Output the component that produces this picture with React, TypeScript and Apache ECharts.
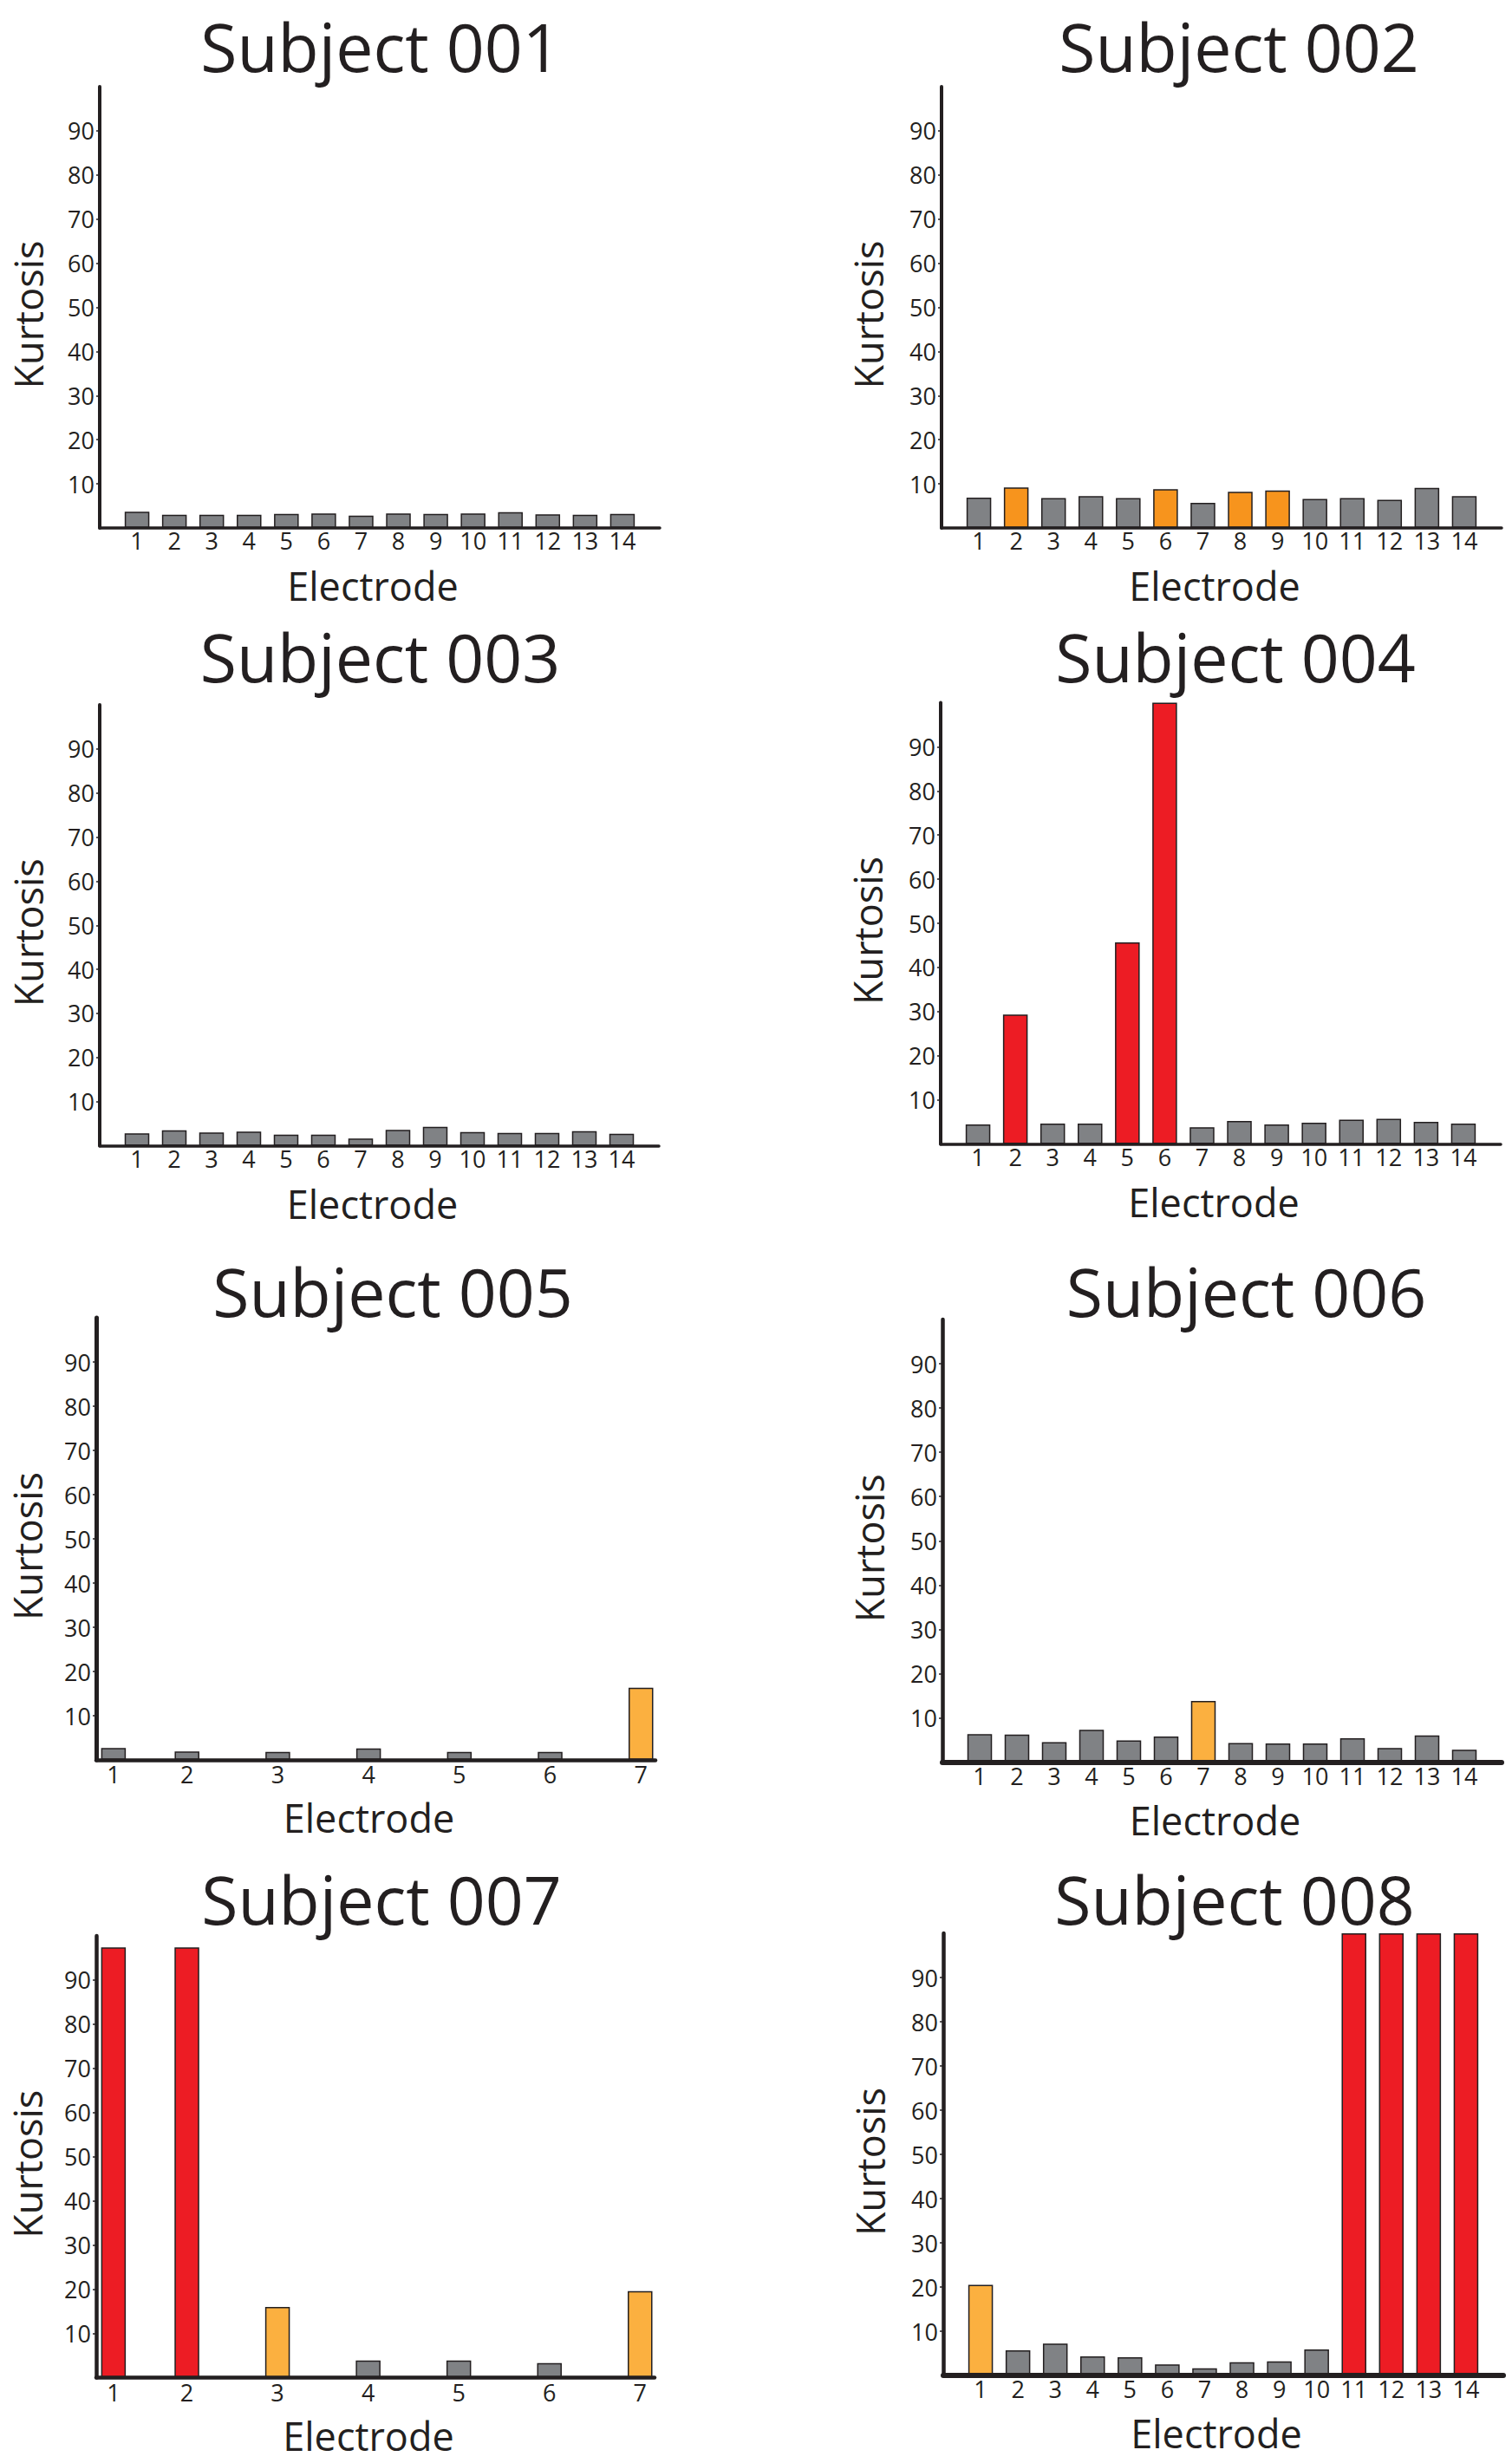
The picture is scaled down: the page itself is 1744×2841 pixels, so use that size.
import React, { useEffect, useRef } from "react";
import * as echarts from "echarts";

// ---------- data ----------
const subjectTitles = [
  "Subject 001", "Subject 002", "Subject 003", "Subject 004",
  "Subject 005", "Subject 006", "Subject 007", "Subject 008",
];

const electrodeLabels14 = ["1", "2", "3", "4", "5", "6", "7", "8", "9", "10", "11", "12", "13", "14"];
const electrodePos14 = [1, 2, 3, 4, 5, 6, 7, 8, 9, 10, 11, 12, 13, 14];
const electrodeLabels7 = ["1", "2", "3", "4", "5", "6", "7"];
const electrodePos7 = [1.19, 2, 3, 4, 5, 6, 7];

const yTickValues = [10, 20, 30, 40, 50, 60, 70, 80, 90];

const kurtosis001 = [3.7, 3.0, 3.0, 3.0, 3.2, 3.3, 2.8, 3.3, 3.2, 3.3, 3.6, 3.1, 3.0, 3.2];
const class001 = ["g", "g", "g", "g", "g", "g", "g", "g", "g", "g", "g", "g", "g", "g"];

const kurtosis002 = [6.9, 9.2, 6.8, 7.2, 6.8, 8.8, 5.7, 8.2, 8.5, 6.6, 6.8, 6.4, 9.1, 7.2];
const class002 = ["g", "o", "g", "g", "g", "o", "g", "o", "o", "g", "g", "g", "g", "g"];

const kurtosis003 = [2.8, 3.5, 3.0, 3.2, 2.5, 2.5, 1.6, 3.6, 4.3, 3.1, 2.9, 2.9, 3.3, 2.7];
const class003 = ["g", "g", "g", "g", "g", "g", "g", "g", "g", "g", "g", "g", "g", "g"];

const kurtosis004 = [4.4, 29.3, 4.6, 4.6, 45.7, 100, 3.8, 5.2, 4.4, 4.8, 5.5, 5.7, 5.0, 4.6];
const class004 = ["g", "r", "g", "g", "r", "r", "g", "g", "g", "g", "g", "g", "g", "g"];

const kurtosis005 = [2.7, 1.9, 1.8, 2.6, 1.8, 1.8, 16.3];
const class005 = ["g", "g", "g", "g", "g", "g", "l"];

const kurtosis006 = [6.3, 6.2, 4.5, 7.3, 4.9, 5.8, 13.8, 4.3, 4.2, 4.2, 5.4, 3.2, 6.0, 2.8];
const class006 = ["g", "g", "g", "g", "g", "g", "l", "g", "g", "g", "g", "g", "g", "g"];

const kurtosis007 = [97.4, 97.4, 16.0, 3.9, 3.9, 3.3, 19.6];
const class007 = ["r", "r", "l", "g", "g", "g", "l"];

const kurtosis008 = [20.5, 5.7, 7.2, 4.3, 4.1, 2.5, 1.6, 3.0, 3.2, 5.9, 100, 100, 100, 100];
const class008 = ["l", "g", "g", "g", "g", "g", "g", "g", "g", "g", "r", "r", "r", "r"];

const panels = [
  { title: subjectTitles[0], values: kurtosis001, cls: class001, pos: electrodePos14, labels: electrodeLabels14, xMin: 0, xMax: 15 },
  { title: subjectTitles[1], values: kurtosis002, cls: class002, pos: electrodePos14, labels: electrodeLabels14, xMin: 0, xMax: 15 },
  { title: subjectTitles[2], values: kurtosis003, cls: class003, pos: electrodePos14, labels: electrodeLabels14, xMin: 0, xMax: 15 },
  { title: subjectTitles[3], values: kurtosis004, cls: class004, pos: electrodePos14, labels: electrodeLabels14, xMin: 0, xMax: 15 },
  { title: subjectTitles[4], values: kurtosis005, cls: class005, pos: electrodePos7, labels: electrodeLabels7, xMin: 1, xMax: 7.16 },
  { title: subjectTitles[5], values: kurtosis006, cls: class006, pos: electrodePos14, labels: electrodeLabels14, xMin: 0, xMax: 15 },
  { title: subjectTitles[6], values: kurtosis007, cls: class007, pos: electrodePos7, labels: electrodeLabels7, xMin: 1, xMax: 7.16 },
  { title: subjectTitles[7], values: kurtosis008, cls: class008, pos: electrodePos14, labels: electrodeLabels14, xMin: 0, xMax: 15 },
];

// ---------- layout / style ----------
const layout = [
  { left: 115, top: 100, right: 761, bottom: 609, tx: 439, ty: 83, xw: 3.5, yw: 4, lm: 1, ng: 60 },
  { left: 1086, top: 100, right: 1732, bottom: 609, tx: 1429, ty: 83, xw: 3.5, yw: 4, lm: 1, ng: 62 },
  { left: 115, top: 813, right: 760, bottom: 1321.5, tx: 438.5, ty: 787, xw: 3.5, yw: 4, lm: 1, ng: 60 },
  { left: 1085, top: 810.5, right: 1731, bottom: 1319.5, tx: 1425, ty: 787, xw: 3.5, yw: 4, lm: 1, ng: 62 },
  { left: 111, top: 1520, right: 756, bottom: 2030, tx: 453, ty: 1519.5, xw: 4.5, yw: 5, lm: 3, ng: 57 },
  { left: 1087, top: 1522, right: 1732, bottom: 2032.5, tx: 1437.5, ty: 1519.5, xw: 6, yw: 4.5, lm: 2, ng: 62 },
  { left: 111, top: 2233, right: 755, bottom: 2742.5, tx: 440, ty: 2220.5, xw: 4.5, yw: 4.5, lm: 3, ng: 57 },
  { left: 1088, top: 2230, right: 1734, bottom: 2740, tx: 1424, ty: 2220.5, xw: 6, yw: 4.5, lm: 2, ng: 62 },
];

const FONT = "'Open Sans', 'Noto Sans', sans-serif";
const INK = "#231f20";
const COLORS: Record<string, string> = { g: "#808285", o: "#f7941d", l: "#fbb040", r: "#ed1c24" };
const TITLE_SIZE = 77;
const TICK_SIZE = 27;
const NAME_SIZE = 45;

function buildOption() {
  const grid: any[] = [];
  const xAxis: any[] = [];
  const yAxis: any[] = [];
  const series: any[] = [];
  const graphic: any[] = [];

  panels.forEach((p, i) => {
    const L = layout[i];
    grid.push({
      left: L.left,
      top: L.top,
      width: L.right - L.left,
      height: L.bottom - L.top,
      containLabel: false,
      outerBoundsMode: "none",
    });
    xAxis.push({
      type: "value",
      gridIndex: i,
      min: p.xMin,
      max: p.xMax,
      z: 5,
      axisLine: { show: true, onZero: false, lineStyle: { color: INK, width: L.xw } },
      axisTick: { show: false },
      splitLine: { show: false },
      axisLabel: {
        customValues: p.pos,
        formatter: (v: number) => {
          const k = p.pos.findIndex((q) => Math.abs(q - v) < 1e-6);
          return k >= 0 ? p.labels[k] : "";
        },
        margin: L.lm,
        fontFamily: FONT,
        fontSize: TICK_SIZE,
        color: INK,
      },
      name: "Electrode",
      nameLocation: "middle",
      nameGap: 44,
      nameTextStyle: { fontFamily: FONT, fontSize: NAME_SIZE, color: INK, padding: [0, 16, 0, 0] },
    });
    yAxis.push({
      type: "value",
      gridIndex: i,
      min: 0,
      max: 100,
      interval: 10,
      z: 5,
      axisLine: { show: true, onZero: false, lineStyle: { color: INK, width: L.yw } },
      axisTick: { show: true, customValues: yTickValues, length: 4, lineStyle: { color: INK, width: 1.5 } },
      splitLine: { show: false },
      axisLabel: {
        customValues: yTickValues,
        margin: 6,
        fontFamily: FONT,
        fontSize: TICK_SIZE,
        color: INK,
      },
      name: "Kurtosis",
      nameLocation: "middle",
      nameGap: L.ng,
      nameTextStyle: { fontFamily: FONT, fontSize: NAME_SIZE, color: INK, padding: [0, 17, 0, 0] },
    });
    series.push({
      type: "bar",
      xAxisIndex: i,
      yAxisIndex: i,
      barWidth: 28.5,
      data: p.values.map((v, k) => ({
        value: [p.pos[k], v],
        itemStyle: { color: COLORS[p.cls[k]], borderColor: INK, borderWidth: 1.5 },
      })),
    });
    graphic.push({
      type: "text",
      x: L.tx,
      y: L.ty - 0.388 * TITLE_SIZE,
      style: {
        text: p.title,
        fontFamily: FONT,
        fontSize: TITLE_SIZE,
        fill: INK,
        textAlign: "center",
        textVerticalAlign: "middle",
      },
    });
  });

  return {
    animation: false,
    backgroundColor: "#ffffff",
    grid,
    xAxis,
    yAxis,
    series,
    graphic,
  };
}

export default function App() {
  const ref = useRef<HTMLDivElement>(null);
  useEffect(() => {
    if (!ref.current) return;
    const chart = echarts.init(ref.current, undefined, { renderer: "svg" });
    chart.setOption(buildOption() as any);
    return () => chart.dispose();
  }, []);
  return (
    <div
      ref={ref}
      style={{ position: "absolute", left: 0, top: 0, width: 1744, height: 2841, background: "#ffffff" }}
    />
  );
}
